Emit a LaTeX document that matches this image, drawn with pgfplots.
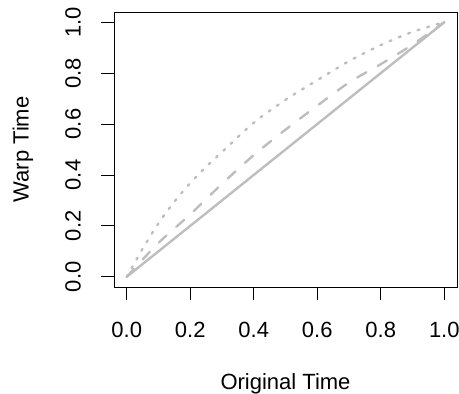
\documentclass[border=0pt]{standalone}
\usepackage{pgfplots}
\pgfplotsset{compat=1.18}
\usepackage{fontspec}
\setmainfont{Liberation Sans}
\definecolor{rgray}{RGB}{190,190,190}
\begin{document}
\begin{tikzpicture}[x=1pt,y=1pt,font=\fontsize{22pt}{26pt}\selectfont]
\useasboundingbox (0,0) rectangle (459,394);
\begin{axis}[
  at={(114pt,107pt)}, anchor=south west,
  scale only axis, width=343pt, height=275pt,
  xmin=-0.04, xmax=1.04, ymin=-0.04, ymax=1.04,
  xtick={0,0.2,...,1.0}, ytick={0,0.2,...,1.0},
  xtick pos=bottom, ytick pos=left,
  tick align=outside, major tick length=13pt,
  tick style={black, line width=0.9pt},
  axis line style={line width=0.9pt},
  font=\fontsize{22pt}{26pt}\selectfont,
  ticklabel style={font=\fontsize{22pt}{26pt}\selectfont},
  /pgf/number format/assume math mode=true,
  /pgf/number format/fixed, /pgf/number format/fixed zerofill,
  /pgf/number format/precision=1,
  xticklabel style={anchor=center},
  xticklabel shift={30pt},
  yticklabel style={rotate=90, anchor=center},
  yticklabel shift={28pt},
  xlabel={Original Time},
  ylabel={Warp Time},
  label style={font=\fontsize{22pt}{26pt}\selectfont},
  xlabel style={at={([yshift=-97pt]axis description cs:0.5,0)}, anchor=center},
  ylabel style={at={([xshift=-91pt]axis description cs:0,0.5)}, anchor=center, rotate=0},
]
\addplot[rgray, line width=2.4pt, smooth, line cap=round, mark=none] coordinates {(0,0) (0.2,0.2) (0.4,0.4) (0.6,0.6) (0.8,0.8) (1,1)};
\addplot[rgray, line width=2.4pt, smooth, line cap=round, mark=none, dash pattern=on 10.5pt off 13pt] coordinates {(0,0) (0.1,0.133) (0.2,0.245) (0.3,0.365) (0.4,0.478) (0.5,0.578) (0.6,0.672) (0.7,0.763) (0.8,0.835) (0.9,0.912) (1,1)};
\addplot[rgray, line width=2.4pt, smooth, line cap=round, mark=none, dash pattern=on 2pt off 8pt] coordinates {(0,0) (0.05,0.11) (0.1,0.21) (0.15,0.295) (0.2,0.368) (0.25,0.432) (0.3,0.49) (0.4,0.605) (0.5,0.695) (0.6,0.772) (0.7,0.847) (0.8,0.91) (0.9,0.962) (1,1)};
\end{axis}
\end{tikzpicture}
\end{document}
